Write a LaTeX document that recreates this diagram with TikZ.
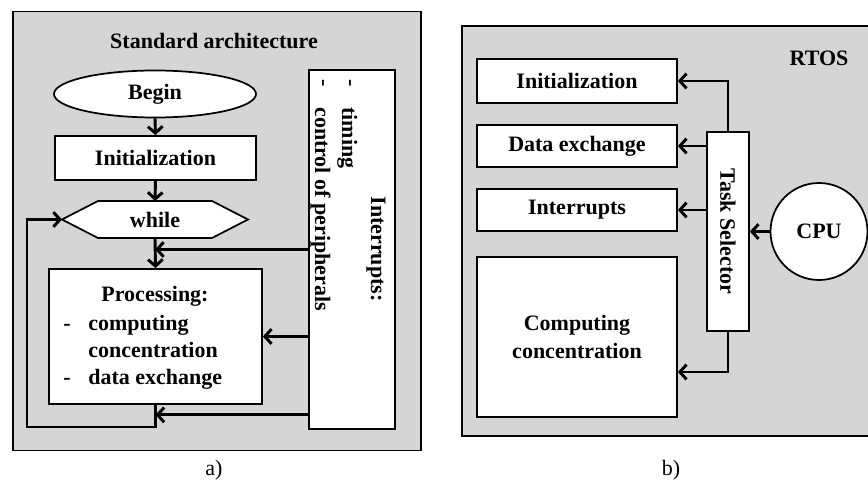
\documentclass[tikz,border=0pt]{standalone}
\usepackage{fontspec}
\setmainfont{Liberation Serif}
\usetikzlibrary{arrows.meta,shapes.geometric,calc}
\definecolor{panel}{RGB}{212,213,212}

\begin{document}
\begin{tikzpicture}[x=0.75pt,y=-0.75pt,
  frame/.style={draw, line width=1.2pt, fill=panel, inner sep=0pt},
  box/.style={draw, line width=1.3pt, fill=white, inner sep=0pt,
    font=\fontsize{16.5}{20.5}\selectfont\bfseries},
  lbl/.style={inner sep=0pt, font=\fontsize{16.5}{20.5}\selectfont\bfseries},
  captext/.style={inner sep=0pt, font=\fontsize{16.5}{20.5}\selectfont},
  link/.style={line width=2.2pt, -{Straight Barb[length=5pt,width=11pt]}},
]
\useasboundingbox (0,0) rectangle (868,481);
\clip (0,0) rectangle (868,481);

% ---------- a) standard architecture ----------
\node[frame, minimum width=408*0.75pt, minimum height=439*0.75pt] (panA) at (217,231) {};
\node[lbl] (titleA) at (214,41) {Standard architecture};

\node[box, ellipse, minimum width=202*0.75pt, minimum height=47*0.75pt] (begin) at (155,94) {Begin};
\node[box, minimum width=201*0.75pt, minimum height=44*0.75pt] (init) at (155.5,158) {Initialization};

% while block (hexagon)
\draw[line width=1.3pt, fill=white] (62,219.5) -- (98,201) -- (212,201) -- (248,219.5)
  -- (212,238) -- (98,238) -- cycle;
\node[lbl] (while) at (155,219.5) {while};
\coordinate (wtop) at (155,201);
\coordinate (wbot) at (155,238);
\coordinate (wleft) at (62,219.5);

\node[box, minimum width=213*0.75pt, minimum height=135*0.75pt] (proc) at (155.5,336.5) {};
\node[lbl] (procT) at (155,296) {Processing:};
\node[lbl, anchor=base west] (d1) at (63,330) {-};
\node[lbl, anchor=base west] (p1) at (88,330) {computing};
\node[lbl, anchor=base west] (p2) at (88,357) {concentration};
\node[lbl, anchor=base west] (d2) at (63,384) {-};
\node[lbl, anchor=base west] (p3) at (88,384) {data exchange};

% interrupt sources
\node[box, minimum width=86*0.75pt, minimum height=359*0.75pt] (intr) at (352,249.5) {};
\node[lbl, rotate=-90] (intrT) at (376,249) {Interrupts:};
\node[lbl, rotate=-90] (i1d) at (348,83) {-};
\node[lbl, rotate=-90] (i2d) at (321,83) {-};
\node[lbl, rotate=-90, anchor=base west] (i1) at (342,107) {timing};
\node[lbl, rotate=-90, anchor=base west] (i2) at (315,107) {control of peripherals};

\path (proc.south) ++(0,10) coordinate (ret);
\coordinate (loopc) at (27,427);

\draw[link] (begin.south) -- (init.north);
\draw[link] (init.south) -- (wtop);
\draw[link] (wbot) -- (proc.north);
\draw[link] (intr.west) -- (wbot |- intr.west);
\draw[link] (intr.west |- proc.east) -- (proc.east);
\draw[link] (intr.west |- ret) -- (ret);
\draw[link] (proc.south) |- (loopc) |- (wleft);

\node[captext] (capA) at (214,470) {a)};

% ---------- b) RTOS ----------
\node[frame, minimum width=438*0.75pt, minimum height=410*0.75pt] (panB) at (681,231) {};
\node[lbl] (rtos) at (819,58) {RTOS};

\node[box, minimum width=200*0.75pt, minimum height=44*0.75pt] (tInit) at (577,81) {Initialization};
\node[box, minimum width=200*0.75pt, minimum height=42*0.75pt] (tData) at (577,146) {Data exchange};
\node[box, minimum width=200*0.75pt, minimum height=42*0.75pt] (tIrq) at (577,210) {Interrupts};
\node[box, minimum width=200*0.75pt, minimum height=160*0.75pt, align=center] (tComp) at (577,337)
  {Computing\\concentration};

\node[box, minimum width=42*0.75pt, minimum height=199*0.75pt] (ts) at (728,231.5) {};
\node[lbl, rotate=-90] (tsT) at (ts) {Task Selector};

\node[box, circle, minimum size=97*0.75pt] (cpu) at (819,231.5) {CPU};

\coordinate (compIn) at ($(tComp.east)+(0,35)$);

\draw[link] (ts.north) |- (tInit.east);
\draw[link] (ts.west |- tData.east) -- (tData.east);
\draw[link] (ts.west |- tIrq.east) -- (tIrq.east);
\draw[link] (ts.south) |- (compIn);
\draw[link] (cpu.west) -- (ts.east |- cpu.west);

\node[captext] (capB) at (671,470) {b)};
\end{tikzpicture}
\end{document}
